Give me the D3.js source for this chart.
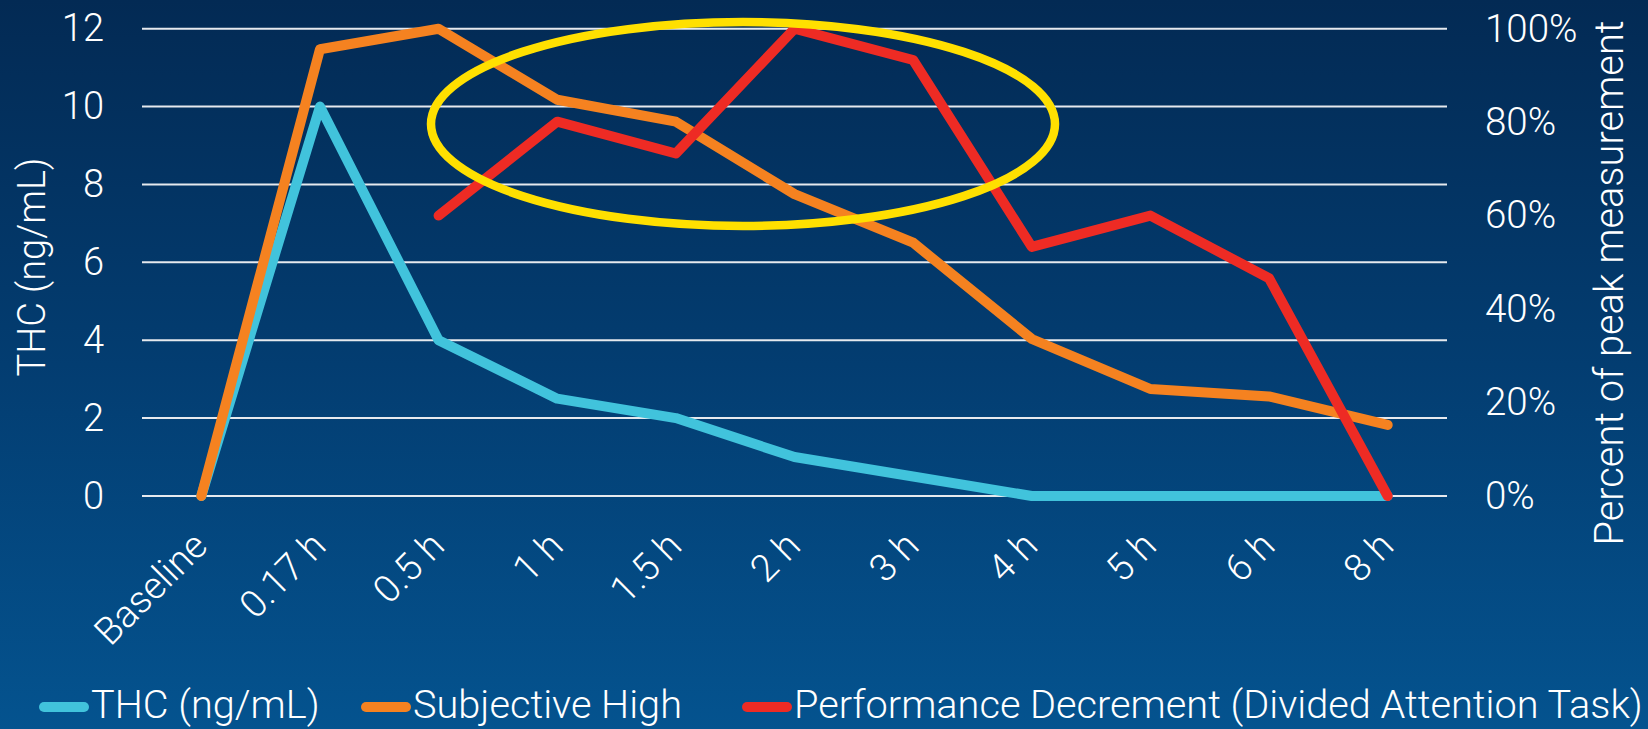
<!DOCTYPE html>
<html lang="en">
  <head>
    <meta charset="UTF-8" />
    <title>THC vs impairment</title>
    <script src="https://d3js.org/d3.v7.min.js"></script>
    <style>
      body {
        margin: 0;
        overflow: hidden;
      }
      svg {
        display: block;
        font-family: Roboto, "Open Sans", sans-serif;
        font-weight: 300;
      }
    </style>
  </head>
  <body>
    <svg id="chart" width="1648" height="729"></svg>

    <script>
      const categories = [
        "Baseline", "0.17 h", "0.5 h", "1 h", "1.5 h", "2 h",
        "3 h", "4 h", "5 h", "6 h", "8 h",
      ];

      // left axis, ng/mL
      const thc = [0, 10, 4, 2.5, 2, 1, 0.5, 0, 0, 0, 0];
      // right axis, share of peak
      const subjectiveHigh = [0, 0.956, 1, 0.848, 0.801, 0.646, 0.542, 0.336, 0.229, 0.213, 0.152];
      const performance = [null, null, 0.6, 0.801, 0.733, 1, 0.933, 0.533, 0.6, 0.466, 0];

      const leftTicks = [0, 2, 4, 6, 8, 10, 12];
      const rightTicks = [0, 0.2, 0.4, 0.6, 0.8, 1];

      const seriesNames = [
        "THC (ng/mL)",
        "Subjective High",
        "Performance Decrement (Divided Attention Task)",
      ];

      const svg = d3.select("#chart");
      const W = 1648, H = 729;

      const defs = svg.append("defs");
      const grad = defs.append("linearGradient")
        .attr("id", "bg").attr("x1", 0).attr("y1", 0).attr("x2", 0).attr("y2", 1);
      grad.append("stop").attr("offset", "0%").attr("stop-color", "#032a54");
      grad.append("stop").attr("offset", "50%").attr("stop-color", "#033d71");
      grad.append("stop").attr("offset", "100%").attr("stop-color", "#04538f");

      svg.append("rect").attr("width", W).attr("height", H).attr("fill", "url(#bg)");

      const x = d3.scaleBand().domain(categories).range([142, 1447]).padding(0);
      const cx = (d) => x(d) + x.bandwidth() / 2;
      const yL = d3.scaleLinear().domain([0, 12]).range([496, 28.7]);
      const yR = d3.scaleLinear().domain([0, 1]).range([496, 28.7]);

      // gridlines
      svg.append("g")
        .selectAll("line")
        .data(leftTicks)
        .join("line")
        .attr("x1", 142)
        .attr("x2", 1447)
        .attr("y1", (d) => yL(d))
        .attr("y2", (d) => yL(d))
        .attr("stroke", "#e6e9ee")
        .attr("stroke-width", 2);

      // left axis labels
      const leftAxis = svg.append("g")
        .attr("transform", "translate(104,0)")
        .call(d3.axisLeft(yL).tickValues(leftTicks).tickSize(0).tickPadding(0));
      leftAxis.select(".domain").remove();
      leftAxis.selectAll("text")
        .attr("fill", "#fff")
        .attr("font-size", 38)
        .attr("font-family", "Roboto")
        .attr("font-weight", 300);

      // right axis labels
      const rightAxis = svg.append("g")
        .attr("transform", "translate(1485,0)")
        .call(d3.axisRight(yR).tickValues(rightTicks).tickFormat(d3.format(".0%")).tickSize(0).tickPadding(0));
      rightAxis.select(".domain").remove();
      rightAxis.selectAll("text")
        .attr("fill", "#fff")
        .attr("font-size", 38.5)
        .attr("font-family", "Roboto")
        .attr("font-weight", 300);

      // x labels, rotated
      svg.append("g")
        .selectAll("text")
        .data(categories)
        .join("text")
        .attr("transform", (d) => `translate(${cx(d) + 8},548) rotate(-45)`)
        .attr("text-anchor", "end")
        .attr("fill", "#fff")
        .attr("font-size", 38)
        .text((d) => d);

      // axis titles
      svg.append("text")
        .attr("transform", "translate(45,267) rotate(-90)")
        .attr("text-anchor", "middle")
        .attr("fill", "#fff")
        .attr("font-size", 38)
        .text("THC (ng/mL)");

      svg.append("text")
        .attr("transform", "translate(1623,283) rotate(-90)")
        .attr("text-anchor", "middle")
        .attr("fill", "#fff")
        .attr("font-size", 39.8)
        .text("Percent of peak measurement");

      const colors = ["#41c3dc", "#f58220", "#ee2b24"];

      const lineL = d3.line().x((d, i) => cx(categories[i])).y((d) => yL(d));
      const lineR = d3.line()
        .defined((d) => d !== null)
        .x((d, i) => cx(categories[i]))
        .y((d) => yR(d));

      const lines = [
        { path: lineL(thc), color: colors[0] },
        { path: lineR(subjectiveHigh), color: colors[1] },
        { path: lineR(performance), color: colors[2] },
      ];

      svg.append("g")
        .selectAll("path")
        .data(lines)
        .join("path")
        .attr("d", (d) => d.path)
        .attr("fill", "none")
        .attr("stroke", (d) => d.color)
        .attr("stroke-width", 10)
        .attr("stroke-linecap", "round")
        .attr("stroke-linejoin", "round");

      // highlight ellipse
      svg.append("ellipse")
        .attr("cx", 743)
        .attr("cy", 124)
        .attr("rx", 312)
        .attr("ry", 102)
        .attr("fill", "none")
        .attr("stroke", "#ffe000")
        .attr("stroke-width", 8.5);

      // legend
      const legendX = [44, 366, 747];
      const legend = svg.append("g")
        .selectAll("g")
        .data(seriesNames)
        .join("g")
        .attr("transform", (d, i) => `translate(${legendX[i]},0)`);
      legend.append("line")
        .attr("x1", 0)
        .attr("x2", 40)
        .attr("y1", 707)
        .attr("y2", 707)
        .attr("stroke", (d, i) => colors[i])
        .attr("stroke-width", 10)
        .attr("stroke-linecap", "round");
      legend.append("text")
        .attr("x", 47)
        .attr("y", 718)
        .attr("fill", "#fff")
        .attr("font-size", 39.7)
        .text((d) => d);
    </script>
  </body>
</html>
